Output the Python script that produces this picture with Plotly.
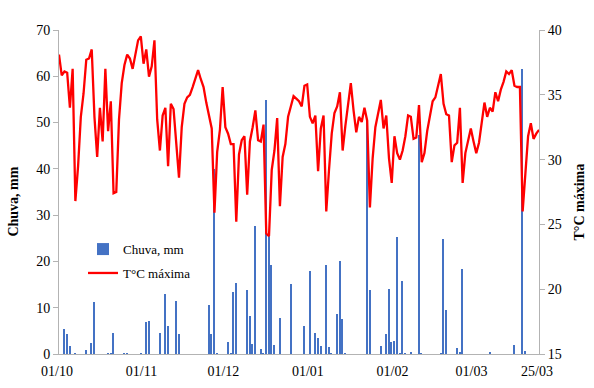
import pandas as pd
import plotly.graph_objects as go

# ---- data ----
dates = pd.date_range("2015-10-01", "2016-03-25", freq="D")

temp_max = [
    38.1, 36.5, 36.8, 36.7, 34.0, 37.0, 26.8, 29.5, 33.3, 35.1,
    37.7, 37.8, 38.5, 33.3, 30.2, 34.0, 31.4, 37.0, 32.2, 34.5,
    27.4, 27.5, 33.1, 35.9, 37.3, 38.1, 37.8, 37.0, 38.1, 39.2,
    39.5, 37.4, 38.5, 36.4, 37.2, 39.2, 33.1, 30.7, 33.4, 34.0,
    29.5, 34.3, 33.9, 31.0, 28.6, 32.5, 34.3, 34.8, 35.0, 35.6,
    36.3, 36.9, 36.2, 35.6, 34.4, 33.3, 32.4, 25.9, 30.6, 32.3,
    35.6, 32.5, 32.0, 31.2, 31.2, 25.2, 30.4, 31.5, 31.8, 27.3,
    31.4, 32.5, 33.8, 31.5, 31.4, 32.7, 24.3, 24.1, 29.2, 30.7,
    33.2, 26.4, 30.2, 31.2, 33.3, 34.1, 34.9, 34.7, 34.5, 34.1,
    35.7, 35.8, 33.3, 32.8, 33.4, 29.1, 32.4, 33.4, 26.0, 29.2,
    32.0, 33.6, 34.1, 35.2, 30.7, 32.6, 34.5, 35.9, 33.8, 32.1,
    33.3, 32.9, 34.0, 33.0, 26.3, 30.1, 32.5, 33.6, 34.6, 32.4,
    33.4, 30.1, 28.2, 31.8, 30.5, 30.0, 30.7, 31.8, 33.4, 33.3,
    31.6, 31.7, 34.2, 29.8, 30.5, 32.2, 33.4, 34.5, 34.8, 35.8,
    36.6, 34.3, 33.5, 33.4, 29.8, 31.1, 31.3, 34.0, 28.2, 30.5,
    31.5, 32.4, 31.4, 30.5, 31.3, 33.1, 34.4, 33.3, 34.0, 33.7,
    35.2, 34.5, 35.4, 36.0, 36.8, 36.6, 36.9, 35.7, 35.6, 35.6,
    26.0, 28.9, 31.8, 32.8, 31.6, 32.0, 32.3,
]

chuva = [
    0, 0, 5.5, 4.4, 1.8, 0, 0.2, 0, 0, 0,
    0.8, 0, 2.4, 11.2, 0, 0, 0, 0, 0.2, 0.2,
    4.6, 0, 0, 0, 0.2, 0.2, 0, 0, 0, 0,
    0.2, 0, 7.0, 7.1, 0, 0, 0, 4.6, 0, 12.9,
    6.0, 0, 0, 11.4, 4.3, 0, 0, 0, 0, 0,
    0, 0, 0, 0, 0, 10.6, 4.4, 40.0, 0.1, 0,
    0, 0, 2.7, 0.1, 13.5, 15.3, 0, 0, 0, 13.8,
    8.2, 2.1, 27.7, 0, 1.0, 0.1, 54.8, 25.5, 19.2, 1.9,
    0, 7.8, 0, 0, 0, 15.1, 0, 0, 0, 0,
    6.0, 0, 18.0, 0, 4.5, 3.5, 1.8, 0, 19.2, 1.6,
    0.2, 0, 8.6, 20.2, 7.5, 0.1, 0, 0, 0, 0,
    0, 0, 0, 50.5, 13.8, 0, 0, 0, 1.7, 0,
    4.3, 14.0, 2.7, 2.8, 25.2, 0.1, 15.8, 0.1, 0, 0.4,
    0, 0, 47.3, 0.1, 0, 0, 0, 0, 0, 0,
    0.1, 24.8, 9.5, 0, 0, 0, 1.4, 0.5, 18.4, 0,
    0, 0, 0, 0, 0, 0, 0, 0, 0.4, 0,
    0, 0, 0, 0, 0, 0, 0, 1.9, 0, 0,
    61.6, 0.7, 0, 0, 0, 0, 0,
]

tick_dates = ["2015-10-01", "2015-11-01", "2015-12-01", "2016-01-01",
              "2016-02-01", "2016-03-01", "2016-03-25"]
tick_labels = ["01/10", "01/11", "01/12", "01/01", "01/02", "01/03", "25/03"]

FONT = "Liberation Serif, Times New Roman, serif"
AXIS_GRAY = "#b3b3b3"

fig = go.Figure()
fig.add_trace(go.Bar(
    x=dates, y=chuva, name="Chuva, mm",
    marker=dict(color="#4472C4", line=dict(width=0)),
    width=0.55 * 86400000, yaxis="y", legendgroup="a",
))
fig.add_trace(go.Scatter(
    x=dates, y=temp_max, name="T°C máxima", mode="lines",
    line=dict(color="#FF0000", width=2.3), yaxis="y2", legendgroup="b",
))

fig.update_layout(
    width=594, height=388,
    margin=dict(l=59, r=55, t=30, b=34),
    paper_bgcolor="white", plot_bgcolor="white",
    font=dict(family=FONT, size=14, color="#000000"),
    showlegend=True,
    legend=dict(x=0.05, y=0.37, xanchor="left", yanchor="top",
                bgcolor="rgba(0,0,0,0)", font=dict(size=13, family=FONT),
                traceorder="grouped", tracegroupgap=4),
    bargap=0,
    xaxis=dict(
        type="date", range=["2015-10-01", "2016-03-25"],
        tickmode="array", tickvals=tick_dates, ticktext=tick_labels,
        showgrid=False, zeroline=False, showline=True, linecolor=AXIS_GRAY,
        linewidth=1, ticks="", tickfont=dict(size=14, family=FONT),
        ticklabelstandoff=4, ticklabelshift=-2, automargin=False,
    ),
    yaxis=dict(
        range=[0, 70], dtick=10, showgrid=False, zeroline=False,
        showline=True, linecolor=AXIS_GRAY, linewidth=1,
        ticks="outside", ticklen=5, tickcolor=AXIS_GRAY,
        tickfont=dict(size=14, family=FONT), automargin=False,
    ),
    yaxis2=dict(
        range=[15, 40], dtick=5, overlaying="y", side="right",
        showgrid=False, zeroline=False, showline=True, linecolor=AXIS_GRAY,
        linewidth=1, ticks="outside", ticklen=5, tickcolor=AXIS_GRAY,
        tickfont=dict(size=14, family=FONT), automargin=False,
    ),
    annotations=[
        dict(text="<b>Chuva, mm</b>", xref="paper", yref="paper",
             x=-0.094, y=0.47, textangle=-90, showarrow=False,
             xanchor="center", yanchor="middle",
             font=dict(size=14, family=FONT)),
        dict(text="<b>T°C máxima</b>", xref="paper", yref="paper",
             x=1.085, y=0.47, textangle=-90, showarrow=False,
             xanchor="center", yanchor="middle",
             font=dict(size=14, family=FONT)),
    ],
)

fig.write_html("out.html")
